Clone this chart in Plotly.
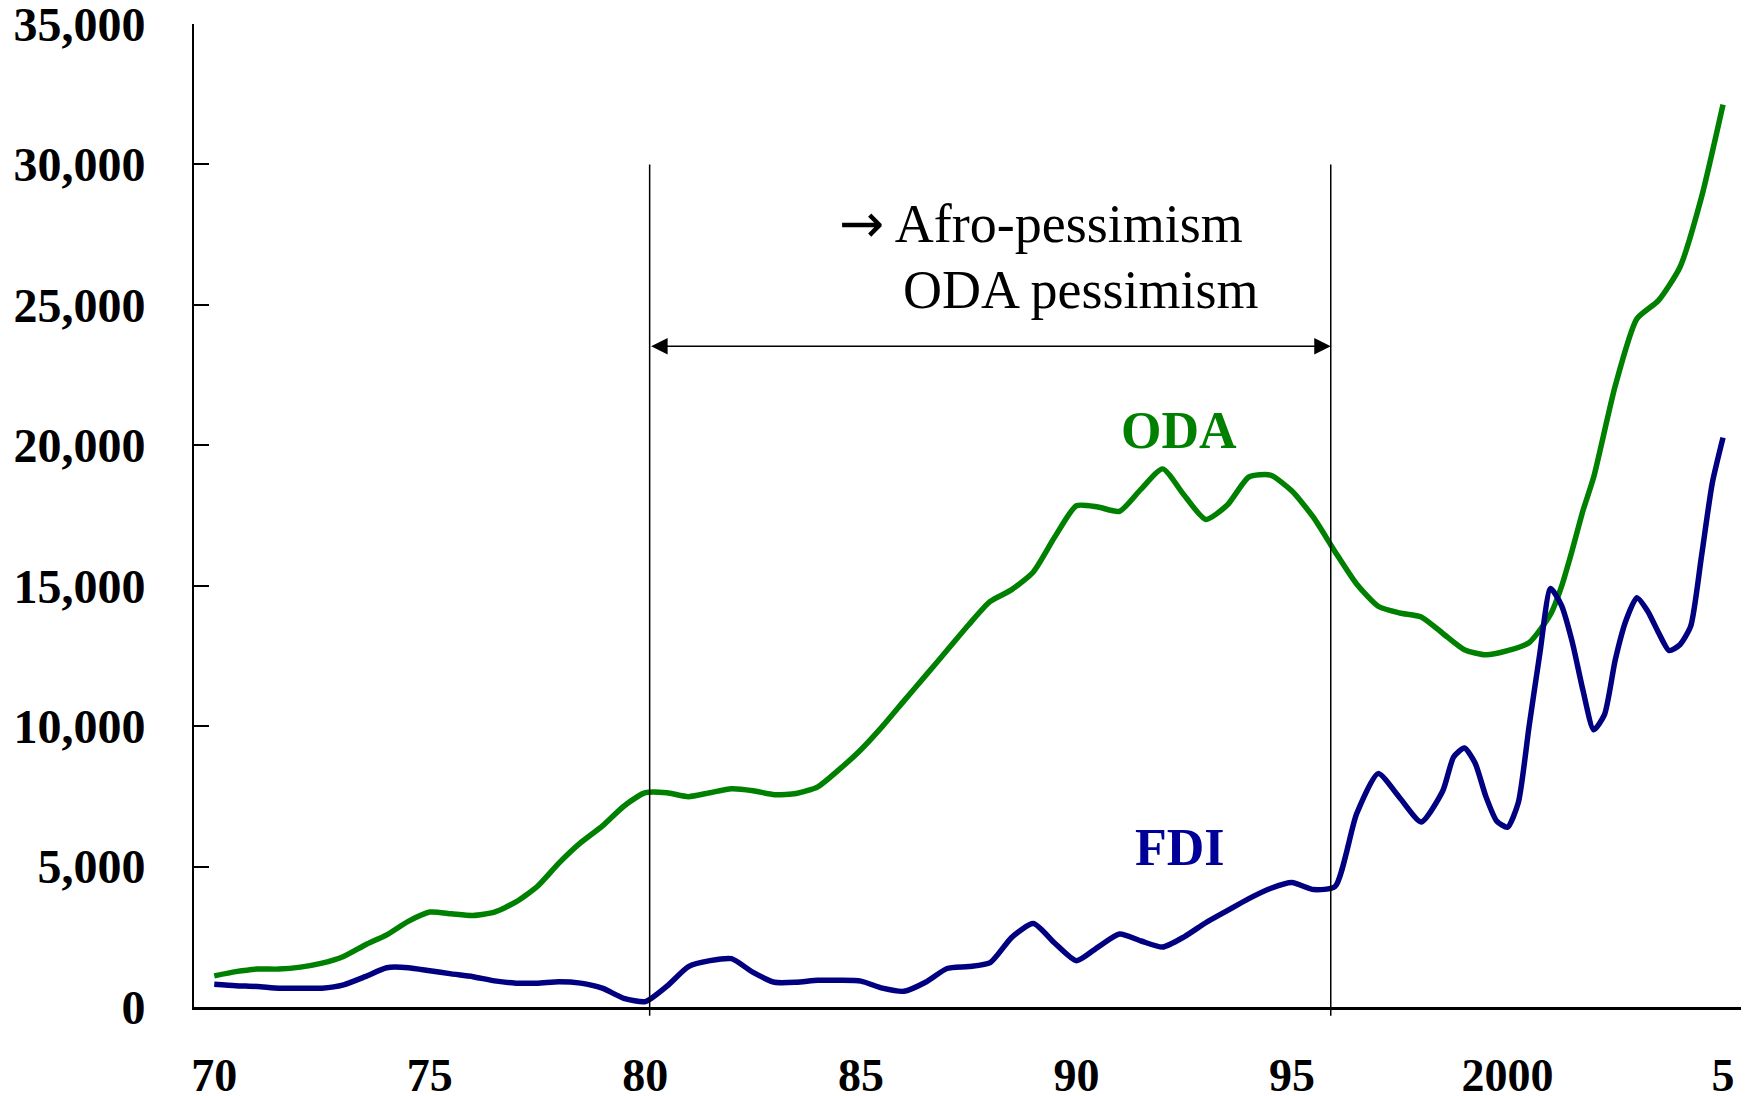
import plotly.graph_objects as go

# ---------------- data ----------------
oda_years = [1970, 1970.5, 1971, 1971.5, 1972, 1972.5, 1973, 1973.5, 1974, 1974.5,
             1975, 1975.5, 1976, 1976.5, 1977, 1977.5, 1978, 1978.5, 1979, 1979.5,
             1980, 1980.5, 1981, 1981.5, 1982, 1982.5, 1983, 1983.5, 1984, 1984.5,
             1985, 1985.5, 1986, 1986.5, 1987, 1987.5, 1988, 1988.5, 1989, 1989.5,
             1990, 1990.5, 1991, 1991.5, 1992, 1992.5, 1993, 1993.5, 1994, 1994.5,
             1995, 1995.5, 1996, 1996.5, 1997, 1997.5, 1998, 1998.5, 1999, 1999.5,
             2000, 2000.5, 2001, 2001.25, 2001.5, 2001.75, 2002, 2002.5, 2003, 2003.5,
             2004, 2004.5, 2005]
oda_values = [1110, 1260, 1350, 1350, 1420, 1560, 1800, 2210, 2570, 3050,
              3380, 3320, 3260, 3380, 3740, 4300, 5130, 5850, 6440, 7150,
              7630, 7630, 7490, 7630, 7770, 7700, 7560, 7600, 7840, 8460,
              9160, 9990, 10900, 11800, 12700, 13610, 14440, 14860, 15490, 16740,
              17850, 17800, 17650, 18440, 19160, 18220, 17360, 17870, 18870, 18940,
              18370, 17430, 16210, 15060, 14270, 14030, 13890, 13300, 12720, 12540,
              12690, 12970, 13990, 14960, 16260, 17670, 18870, 22120, 24500, 25150,
              26340, 28830, 32130]

fdi_years = [1970, 1970.5, 1971, 1971.5, 1972, 1972.5, 1973, 1973.5, 1974, 1974.5,
             1975, 1975.5, 1976, 1976.5, 1977, 1977.5, 1978, 1978.5, 1979, 1979.5,
             1980, 1980.5, 1981, 1981.5, 1982, 1982.5, 1983, 1983.5, 1984, 1984.5,
             1985, 1985.5, 1986, 1986.5, 1987, 1987.5, 1988, 1988.5, 1989, 1989.5,
             1990, 1990.5, 1991, 1991.5, 1992, 1992.5, 1993, 1993.5, 1994, 1994.5,
             1995, 1995.5, 1996, 1996.5, 1997, 1997.5, 1998, 1998.5, 1998.75,
             1999, 1999.25, 1999.5, 1999.75, 2000, 2000.25, 2000.5, 2000.75,
             2001, 2001.25, 2001.5, 2001.75, 2002, 2002.25, 2002.5, 2002.75,
             2003, 2003.25, 2003.5, 2003.75, 2004, 2004.25, 2004.5, 2004.75, 2005]
fdi_values = [810, 760, 730, 670, 670, 670, 790, 1080, 1400, 1400,
              1290, 1180, 1080, 930, 850, 850, 900, 850, 670, 310,
              190, 740, 1440, 1650, 1720, 1230, 880, 880, 950, 950,
              920, 670, 560, 880, 1370, 1440, 1580, 2480, 2970, 2270,
              1650, 2135, 2600, 2350, 2135, 2500, 3000, 3430, 3860, 4220,
              4430, 4180, 4290, 6880, 8310, 7450, 6590, 7700, 8900,
              9220, 8680, 7490, 6620, 6400, 7270, 9980, 12580,
              14900, 14310, 13010, 11280, 9870, 10410, 12360, 13770,
              14570, 14100, 13340, 12690, 12900, 13560, 16050, 18650, 20270]

tick_years = [1970, 1975, 1980, 1985, 1990, 1995, 2000, 2005]
tick_labels = ["70", "75", "80", "85", "90", "95", "2000", "5"]
y_ticks = [0, 5000, 10000, 15000, 20000, 25000, 30000, 35000]

period_start = 1980.1
period_end = 1995.9

# ---------------- figure ----------------
SERIF = "Liberation Serif, Times New Roman, serif"
fig = go.Figure()

fig.add_trace(go.Scatter(x=oda_years, y=oda_values, mode="lines", name="ODA",
                         line=dict(color="#008000", width=5.5, shape="spline", smoothing=0.6)))
fig.add_trace(go.Scatter(x=fdi_years, y=fdi_values, mode="lines", name="FDI",
                         line=dict(color="#000080", width=5.5, shape="spline", smoothing=0.6)))

# vertical period lines
for xv in (period_start, period_end):
    fig.add_shape(type="line", xref="x", yref="paper", x0=xv, x1=xv,
                  y0=-0.009, y1=30000 / 35000, line=dict(color="black", width=1.5))

# double-headed arrow
fig.add_annotation(x=period_end, y=23530, ax=period_start, ay=23530,
                   xref="x", yref="y", axref="x", ayref="y",
                   showarrow=True, arrowhead=2, arrowside="end+start",
                   arrowsize=2.2, arrowwidth=1.5, arrowcolor="black", text="")

fig.add_annotation(x=1984.45, y=27900, xref="x", yref="y",
                   text="<span style='font-family:DejaVu Sans'>→</span> Afro-pessimism",
                   showarrow=False, xanchor="left", yanchor="middle",
                   font=dict(family=SERIF, size=54, color="black"))
fig.add_annotation(x=1985.93, y=25530, xref="x", yref="y", text="ODA pessimism",
                   showarrow=False, xanchor="left", yanchor="middle",
                   font=dict(family=SERIF, size=54, color="black"))

fig.add_annotation(x=1992.38, y=20530, xref="x", yref="y", text="ODA",
                   showarrow=False, xanchor="center", yanchor="middle",
                   font=dict(family=SERIF, size=52, color="#008000", weight="bold"))
fig.add_annotation(x=1992.4, y=5680, xref="x", yref="y", text="FDI",
                   showarrow=False, xanchor="center", yanchor="middle",
                   font=dict(family=SERIF, size=52, color="#000099", weight="bold"))

# page body has an 8px default margin; compensate so the plot area lands where the reference has it
fig.update_layout(
    width=1741, height=1088,
    margin=dict(l=186, r=7, t=16, b=89),
    paper_bgcolor="white", plot_bgcolor="white",
    showlegend=False,
)
fig.update_xaxes(range=[1969.53, 2005.44], tickvals=tick_years, ticktext=tick_labels,
                 showgrid=False, zeroline=False, showline=True, linecolor="black",
                 linewidth=2.5, ticks="", ticklabelstandoff=26, automargin=False,
                 ticklabeloverflow="allow",
                 tickfont=dict(family=SERIF, size=46, color="black", weight="bold"))
fig.update_yaxes(range=[0, 35000], tickvals=y_ticks, tickformat=",d",
                 showgrid=False, zeroline=False, showline=True, linecolor="black",
                 linewidth=2, ticks="inside", ticklen=15, tickwidth=2, tickcolor="black",
                 ticklabelstandoff=37, automargin=False, ticklabeloverflow="allow",
                 tickfont=dict(family=SERIF, size=48, color="black", weight="bold"))

fig.write_html("out.html")
